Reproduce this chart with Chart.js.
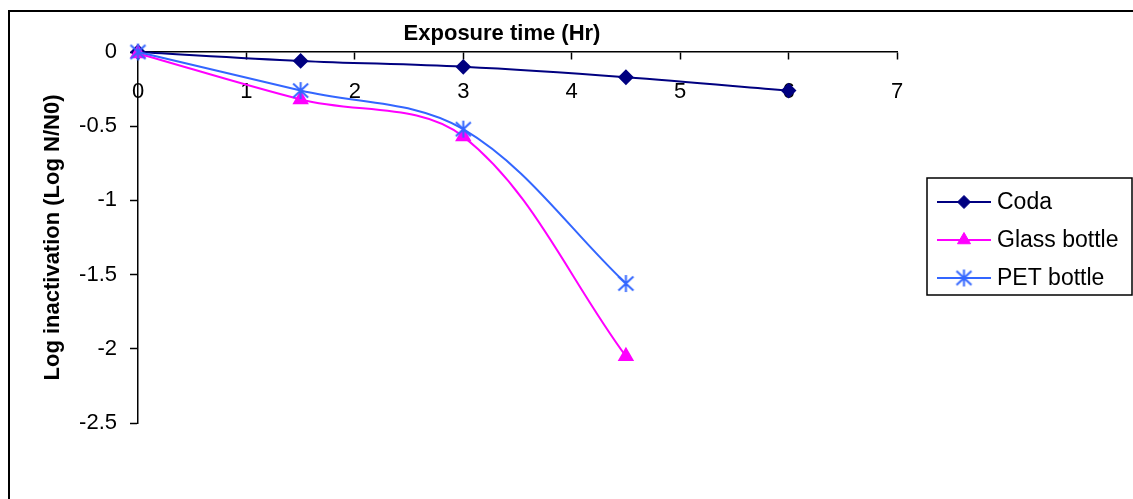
<!DOCTYPE html>
<html>
<head>
<meta charset="utf-8">
<script src="https://cdn.jsdelivr.net/npm/chart.js@4.4.0/dist/chart.umd.min.js"></script>
<style>
  html, body { margin: 0; padding: 0; background: #fff; }
</style>
</head>
<body>
<canvas id="chart" width="1133" height="499"></canvas>
<script>
// data
const hours = [0, 1.5, 3, 4.5, 6];
const coda = [0, -0.06, -0.1, -0.17, -0.26];
const glassBottle = [-0.01, -0.32, -0.57, -2.05];
const petBottle = [0, -0.26, -0.52, -1.56];
const seriesNames = ['Coda', 'Glass bottle', 'PET bottle'];
const xTickValues = [0, 1, 2, 3, 4, 5, 6, 7];
const yTickValues = [0, -0.5, -1, -1.5, -2, -2.5];

const FONT = "'Liberation Sans', Arial, sans-serif";

// asterisk marker like the office one (vertical bar + X)
function makeStar(color) {
  const c = document.createElement('canvas');
  c.width = 19; c.height = 19;
  const g = c.getContext('2d');
  g.strokeStyle = color;
  g.lineWidth = 2;
  g.beginPath();
  g.moveTo(9.5, 1); g.lineTo(9.5, 18);
  g.moveTo(2, 2.5); g.lineTo(17, 16.5);
  g.moveTo(17, 2.5); g.lineTo(2, 16.5);
  g.stroke();
  return c;
}

function pts(xs, ys) {
  return ys.map((y, i) => ({ x: xs[i], y: y }));
}

const frame = {
  id: 'frame',
  beforeDraw(chart) {
    const ctx = chart.ctx;
    ctx.save();
    ctx.fillStyle = '#fff';
    ctx.fillRect(0, 0, chart.width, chart.height);
    ctx.strokeStyle = '#000';
    ctx.lineWidth = 2;
    ctx.beginPath();
    ctx.moveTo(9, chart.height + 5);
    ctx.lineTo(9, 11);
    ctx.lineTo(chart.width + 5, 11);
    ctx.stroke();
    ctx.restore();
  },
  afterDraw(chart) {
    const ctx = chart.ctx;
    ctx.save();
    // x axis title sits above the axis line
    ctx.fillStyle = '#000';
    ctx.font = 'bold 22px ' + FONT;
    ctx.textAlign = 'center';
    ctx.textBaseline = 'middle';
    ctx.fillText('Exposure time (Hr)', 502, 34);

    // legend box
    const bx = 927, by = 178, bw = 205, bh = 117;
    ctx.lineWidth = 1.5;
    ctx.strokeStyle = '#000';
    ctx.strokeRect(bx, by, bw, bh);
    ctx.font = '23px ' + FONT;
    ctx.textAlign = 'left';
    chart.data.datasets.forEach((ds, i) => {
      const y = by + 24 + i * 38;
      ctx.strokeStyle = ds.borderColor;
      ctx.lineWidth = ds.borderWidth;
      ctx.beginPath();
      ctx.moveTo(937, y);
      ctx.lineTo(991, y);
      ctx.stroke();
      ctx.fillStyle = ds.pointBackgroundColor;
      ctx.strokeStyle = ds.pointBorderColor;
      ctx.lineWidth = 1;
      Chart.helpers.drawPoint(ctx, { pointStyle: ds.pointStyle, radius: ds.pointRadius, rotation: 0, borderWidth: 1 }, 964, y);
      ctx.fillStyle = '#000';
      ctx.fillText(ds.label, 997, y + 1);
    });
    ctx.restore();
  }
};

new Chart(document.getElementById('chart'), {
  type: 'line',
  data: {
    datasets: [
      {
        label: seriesNames[0],
        data: pts(hours, coda),
        borderColor: '#000080',
        borderWidth: 2,
        pointStyle: 'rectRot',
        pointRadius: 6.5,
        pointBackgroundColor: '#000080',
        pointBorderColor: '#000080',
        tension: 0.35,
        clip: false,
        order: 2
      },
      {
        label: seriesNames[1],
        data: pts(hours, glassBottle),
        borderColor: '#FF00FF',
        borderWidth: 2,
        pointStyle: 'triangle',
        pointRadius: 7.5,
        pointBackgroundColor: '#FF00FF',
        pointBorderColor: '#FF00FF',
        tension: 0.35,
        clip: false,
        order: 1
      },
      {
        label: seriesNames[2],
        data: pts(hours, petBottle),
        borderColor: '#3366FF',
        borderWidth: 2,
        pointStyle: makeStar('#3366FF'),
        pointRadius: 9,
        pointBackgroundColor: '#3366FF',
        pointBorderColor: '#3366FF',
        tension: 0.35,
        clip: false,
        order: 0
      }
    ]
  },
  options: {
    responsive: false,
    animation: false,
    events: [],
    layout: { padding: { left: 40, top: 52, right: 236, bottom: 76 } },
    plugins: { legend: { display: false }, tooltip: { enabled: false } },
    scales: {
      x: {
        type: 'linear',
        position: { y: 0 },
        min: 0,
        max: 7,
        afterBuildTicks: s => { s.ticks = xTickValues.map(v => ({ value: v })); },
        border: { display: true, color: '#000', width: 1.5 },
        grid: { drawOnChartArea: false, drawTicks: true, tickLength: 7, tickColor: '#000', tickWidth: 1.5 },
        ticks: { color: '#000', font: { family: FONT, size: 22 }, padding: 20, maxRotation: 0 }
      },
      y: {
        type: 'linear',
        position: 'left',
        min: -2.5,
        max: 0,
        afterBuildTicks: s => { s.ticks = yTickValues.map(v => ({ value: v })); },
        afterFit: s => { s.width = 98; },
        border: { display: true, color: '#000', width: 1.5 },
        grid: { drawOnChartArea: false, drawTicks: true, tickLength: 8, tickColor: '#000', tickWidth: 1.5 },
        ticks: { color: '#000', font: { family: FONT, size: 22 }, padding: 13, callback: v => String(v) },
        title: {
          display: true,
          text: 'Log inactivation (Log N/N0)',
          color: '#000',
          font: { family: FONT, size: 22, weight: 'bold' },
          padding: { top: 0, bottom: 0 }
        }
      }
    }
  },
  plugins: [frame]
});
</script>
</body>
</html>
